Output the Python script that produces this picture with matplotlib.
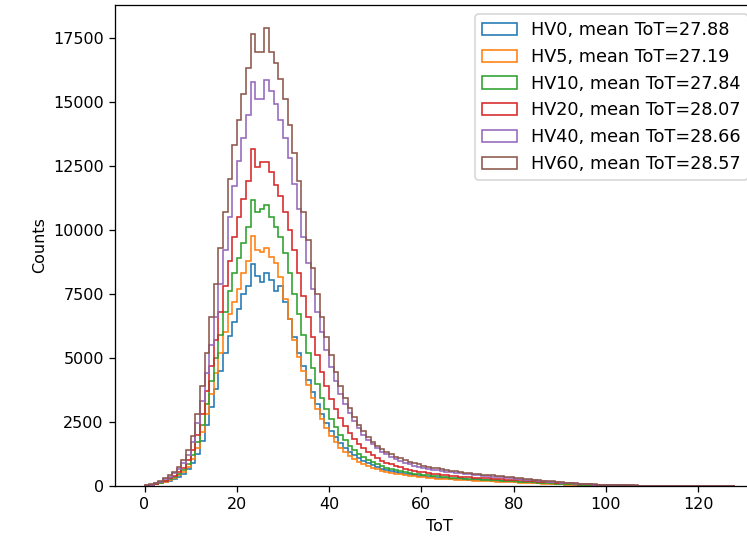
import matplotlib
matplotlib.use("Agg")
import matplotlib.pyplot as plt
import numpy as np

# ToT bin edges (width 1)
tot_edges = list(range(0, 129))

labels = ["HV0, mean ToT=27.88", "HV5, mean ToT=27.19", "HV10, mean ToT=27.84",
          "HV20, mean ToT=28.07", "HV40, mean ToT=28.66", "HV60, mean ToT=28.57"]

hv0 = [10, 30, 60, 100, 150, 210, 280, 370, 480, 650,
       900, 1250, 1750, 2400, 3100, 3800, 4500, 5200, 5850, 6400,
       6900, 7500, 7800, 8650, 8200, 7950, 8300, 8050, 7600, 7800,
       7200, 6500, 5800, 5200, 4700, 4150, 3650, 3200, 2800, 2450,
       2150, 1900, 1680, 1500, 1340, 1200, 1080, 980, 890, 810,
       740, 680, 630, 590, 550, 515, 485, 455, 430, 405,
       385, 365, 345, 330, 315, 300, 290, 280, 270, 260,
       250, 242, 234, 226, 218, 210, 202, 194, 186, 178,
       170, 160, 150, 140, 130, 120, 110, 100, 92, 84,
       76, 68, 60, 54, 48, 42, 37, 33, 29, 25,
       22, 19, 17, 15, 13, 11, 10, 9, 8, 7,
       6, 5, 5, 4, 4, 4, 3, 3, 3, 2,
       2, 2, 2, 1, 1, 1, 1, 1]

hv5 = [10, 30, 65, 110, 170, 240, 320, 420, 560, 760,
       1050, 1500, 2100, 2800, 3600, 4400, 5200, 6000, 6700, 7200,
       7700, 8300, 8800, 9750, 9200, 9150, 9300, 8950, 8700, 8150,
       7300, 6500, 5700, 5050, 4500, 3950, 3450, 3000, 2600, 2250,
       1950, 1700, 1500, 1330, 1180, 1050, 950, 860, 780, 710,
       650, 600, 555, 515, 480, 450, 420, 395, 372, 352,
       335, 318, 303, 290, 278, 267, 257, 247, 238, 229,
       220, 212, 204, 196, 188, 180, 172, 164, 156, 148,
       140, 132, 124, 116, 108, 100, 92, 85, 78, 71,
       64, 58, 52, 47, 42, 37, 33, 29, 26, 23,
       20, 17, 15, 13, 11, 10, 9, 8, 7, 6,
       5, 5, 4, 4, 3, 3, 3, 2, 2, 2,
       2, 1, 1, 1, 1, 1, 1, 1]

hv10 = [10, 35, 70, 120, 185, 260, 350, 460, 620, 850,
        1200, 1700, 2400, 3200, 4100, 5000, 5900, 6800, 7600, 8300,
        8900, 9500, 10100, 11150, 10700, 10800, 10980, 10500, 10100, 9700,
        9100, 8300, 7500, 6700, 5900, 5200, 4600, 4000, 3450, 3000,
        2600, 2300, 2000, 1780, 1580, 1400, 1260, 1130, 1020, 920,
        840, 770, 710, 655, 610, 570, 535, 505, 478, 452,
        430, 410, 390, 372, 356, 341, 327, 314, 302, 290,
        279, 268, 258, 248, 238, 228, 218, 208, 198, 188,
        178, 168, 158, 148, 138, 128, 118, 108, 99, 90,
        81, 73, 66, 59, 53, 47, 42, 37, 33, 29,
        26, 23, 20, 17, 15, 13, 11, 10, 9, 8,
        7, 6, 5, 5, 4, 4, 3, 3, 3, 2,
        2, 2, 2, 1, 1, 1, 1, 1]

hv20 = [15, 40, 80, 140, 210, 300, 400, 530, 720, 1000,
        1400, 2000, 2800, 3700, 4700, 5700, 6800, 7800, 8800, 9700,
        10500, 11200, 11900, 13150, 12450, 12650, 12650, 12250, 11750, 11300,
        10700, 10000, 9200, 8300, 7400, 6600, 5800, 5100, 4450, 3900,
        3400, 3000, 2650, 2350, 2080, 1850, 1650, 1480, 1330, 1200,
        1090, 995, 910, 840, 780, 725, 675, 632, 594, 560,
        530, 503, 478, 456, 436, 418, 401, 385, 370, 356,
        343, 331, 319, 307, 296, 285, 274, 263, 252, 241,
        230, 219, 208, 197, 186, 175, 164, 153, 142, 131,
        120, 109, 98, 88, 79, 70, 62, 55, 48, 42,
        37, 32, 28, 24, 21, 18, 16, 14, 12, 10,
        9, 8, 7, 6, 5, 5, 4, 4, 3, 3,
        3, 2, 2, 2, 2, 1, 1, 1]

hv40 = [20, 50, 100, 170, 260, 370, 500, 660, 880, 1200,
        1700, 2450, 3300, 4400, 5500, 6600, 7900, 9200, 10500, 11700,
        12700, 13600, 14500, 15750, 15100, 15100, 15850, 15400, 14900, 14300,
        13600, 12800, 11800, 10800, 9700, 8700, 7700, 6800, 6000, 5300,
        4650, 4100, 3600, 3200, 2830, 2520, 2250, 2010, 1800, 1620,
        1470, 1340, 1230, 1135, 1050, 975, 910, 850, 798, 752,
        712, 676, 643, 613, 586, 561, 538, 516, 495, 475,
        456, 438, 420, 403, 386, 369, 352, 335, 318, 301,
        284, 267, 250, 233, 216, 199, 183, 168, 154, 141,
        128, 116, 104, 93, 83, 74, 66, 58, 51, 45,
        39, 34, 30, 26, 23, 20, 17, 15, 13, 11,
        10, 9, 8, 7, 6, 5, 5, 4, 4, 3,
        3, 3, 2, 2, 2, 1, 1, 1]

hv60 = [20, 60, 120, 200, 300, 420, 560, 740, 1000, 1400,
        1950, 2800, 3900, 5200, 6600, 7900, 9300, 10700, 12000, 13300,
        14300, 15300, 16300, 17650, 16950, 16950, 17880, 16950, 16500, 15900,
        15100, 14100, 13000, 11900, 10700, 9600, 8500, 7500, 6600, 5800,
        5100, 4450, 3900, 3450, 3050, 2700, 2400, 2150, 1920, 1730,
        1570, 1440, 1330, 1235, 1150, 1075, 1005, 945, 890, 840,
        795, 755, 718, 684, 653, 624, 597, 572, 548, 526,
        505, 485, 466, 447, 429, 411, 393, 375, 357, 339,
        321, 303, 285, 267, 249, 231, 213, 196, 180, 165,
        150, 135, 121, 108, 96, 85, 75, 66, 58, 51,
        45, 39, 34, 30, 26, 23, 20, 17, 15, 13,
        11, 10, 9, 8, 7, 6, 5, 5, 4, 4,
        3, 3, 3, 2, 2, 2, 1, 1]

series = [hv0, hv5, hv10, hv20, hv40, hv60]

W, H, DPI = 747, 543, 115
fig = plt.figure(figsize=(W / DPI, H / DPI), dpi=DPI)
ax = fig.add_axes([115 / W, 1 - 486 / H, (764.6 - 115) / W, (486 - 5) / H])

edges = np.array(tot_edges, dtype=float)
for counts, lab in zip(series, labels):
    ax.hist(edges[:-1], bins=edges, weights=counts, histtype="step", label=lab)

ax.set_xlabel("ToT")
ax.set_ylabel("Counts")
ax.legend(loc="upper right", fontsize=11, borderaxespad=0,
          bbox_to_anchor=(748 / W, 1 - 14 / H), bbox_transform=fig.transFigure)

fig.savefig("out.png", dpi=DPI)
